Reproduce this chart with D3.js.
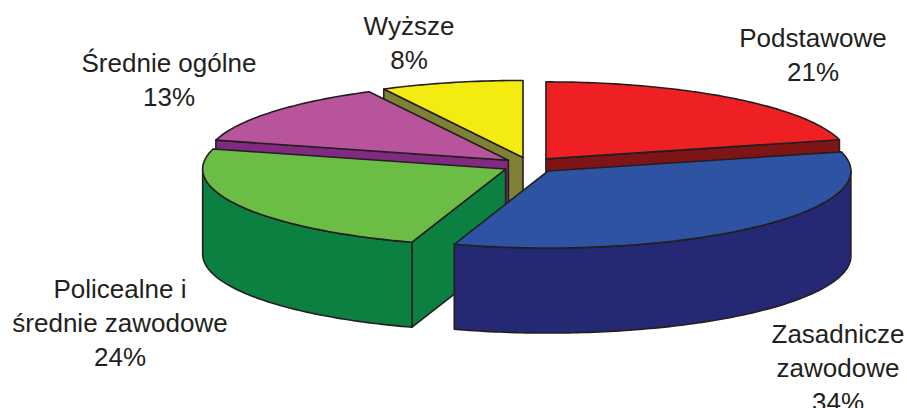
<!DOCTYPE html>
<html>
<head>
<meta charset="utf-8">
<script src="https://cdnjs.cloudflare.com/ajax/libs/d3/7.8.5/d3.min.js"></script>
<style>
html, body { margin: 0; padding: 0; background: #fff; }
svg { display: block; }
text { font-family: "Liberation Sans", Arial, sans-serif; font-size: 26px; fill: #231f20; text-anchor: middle; }
</style>
</head>
<body>
<div id="chart"></div>
<script>
// data, clockwise from the top
const categories = [["Podstawowe"], ["Zasadnicze", "zawodowe"], ["Policealne i", "średnie zawodowe"], ["Średnie ogólne"], ["Wyższe"]];
const values = [21, 34, 24.2, 13.2, 7.6];

const topColors = ["#ee2024", "#2e53a3", "#6cbd45", "#b8549c", "#f4eb10"];
const sideColors = ["#7f1416", "#252872", "#0c8040", "#812a81", "#7f8136"];

// layout of the tilted pie
const width = 907, height = 408;
const cx = 529.4, cy = 165.2;
const rx = 303, ry = 77, depth = 85;
const explodeX = 27, explodeY = 8;
const lineGap = 34;

// first baseline and centre of each label
const labelX = [813, 838, 120, 169, 409];
const labelY = [47, 343, 298, 72, 35];

// painting order: back slices first
const drawOrder = [4, 0, 3, 2, 1];

const svg = d3.select("#chart").append("svg")
    .attr("width", width)
    .attr("height", height);

const slices = d3.pie().sort(null)(values);
const line = d3.line();
const percent = d3.format(".0f");

/**
 * Point of the rim at angle a (radian, 0 on top, clockwise) for a slice apex
 */
function rimPoint(apex, a, drop){
    return [apex[0] + rx*Math.sin(a), apex[1] - ry*Math.cos(a) + drop];
}

/**
 * Sample the rim between two angles, about one point per degree
 */
function rimPoints(apex, a0, a1, drop){
    const n = Math.max(2, Math.ceil((a1 - a0)*180/Math.PI));
    return d3.range(n + 1).map(i => rimPoint(apex, a0 + (a1 - a0)*i/n, drop));
}

function addShape(pts, color){
    svg.append("path")
        .attr("d", line(pts) + "Z")
        .attr("fill", color)
        .attr("stroke", "#231f20")
        .attr("stroke-width", 1.6)
        .attr("stroke-linejoin", "round");
}

function cutFace(apex, a, color){
    const rim = rimPoint(apex, a, 0);
    addShape([apex, rim, [rim[0], rim[1] + depth], [apex[0], apex[1] + depth]], color);
}

for ( const i of drawOrder ){
    const s = slices[i];
    const mid = (s.startAngle + s.endAngle)/2;
    const apex = [cx + explodeX*Math.sin(mid), cy - explodeY*Math.cos(mid)];

    // cut faces turned towards the viewer
    if ( Math.sin(s.startAngle) < -1e-6 ){ cutFace(apex, s.startAngle, sideColors[i]); }
    if ( Math.sin(s.endAngle) > 1e-6 ){ cutFace(apex, s.endAngle, sideColors[i]); }

    // outer wall, only the front half of the rim shows
    const a0 = Math.max(s.startAngle, Math.PI/2), a1 = Math.min(s.endAngle, 3*Math.PI/2);
    if ( a1 > a0 ){
        const upper = rimPoints(apex, a0, a1, 0);
        const lower = rimPoints(apex, a0, a1, depth).reverse();
        addShape(upper.concat(lower), sideColors[i]);
    }

    addShape([apex].concat(rimPoints(apex, s.startAngle, s.endAngle, 0)), topColors[i]);
}

// labels
categories.forEach((lines, i) => {
    const t = svg.append("text").attr("x", labelX[i]).attr("y", labelY[i]);
    lines.concat(percent(values[i]) + "%").forEach((txt, k) => {
        t.append("tspan")
            .attr("x", labelX[i])
            .attr("y", labelY[i] + k*lineGap)
            .text(txt);
    });
});
</script>
</body>
</html>
